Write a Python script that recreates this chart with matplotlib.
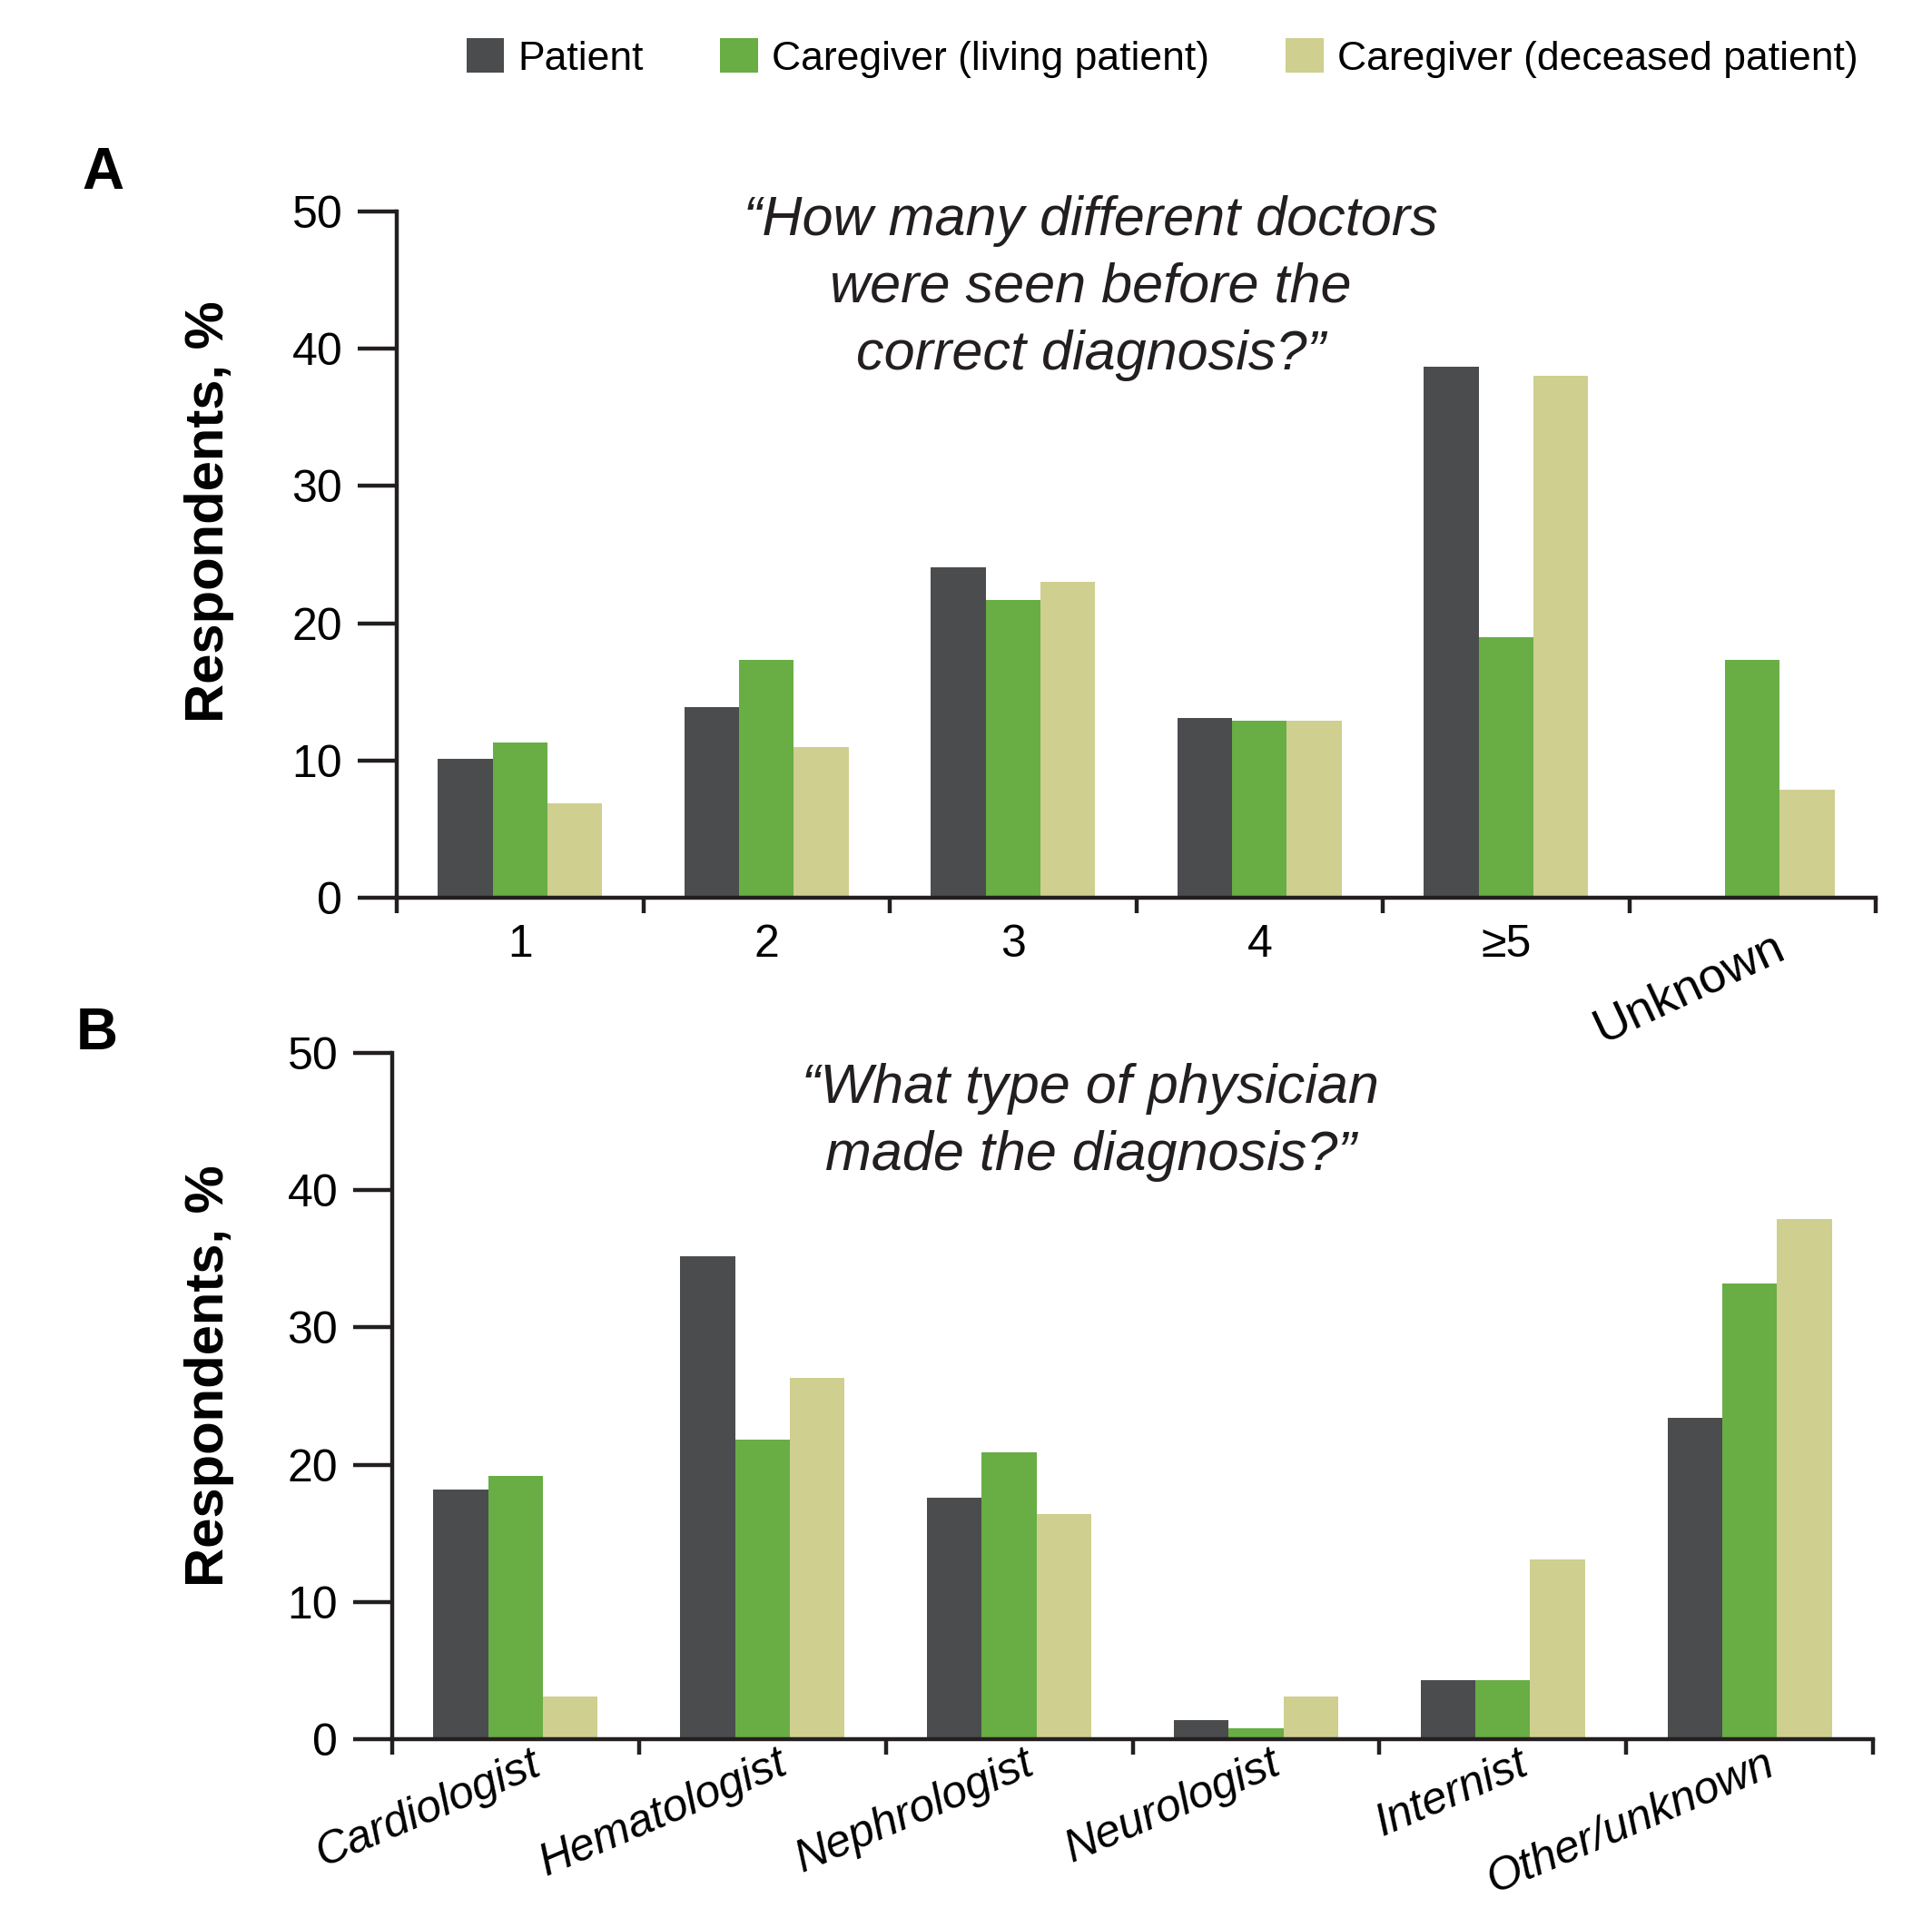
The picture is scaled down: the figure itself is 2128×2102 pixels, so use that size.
import numpy as np
import matplotlib
matplotlib.use("Agg")
import matplotlib.pyplot as plt
from matplotlib.transforms import ScaledTranslation

plt.rcParams["font.family"] = ["Liberation Sans", "DejaVu Sans"]

series = ["Patient", "Caregiver (living patient)", "Caregiver (deceased patient)"]
colors = ["#4b4c4e", "#69ad45", "#cfcf90"]

# panel A: number of doctors seen
a_cats = ["1", "2", "3", "4", "≥5", "Unknown"]
a_patient = [10.1, 13.9, 24.1, 13.1, 38.7, 0]
a_living = [11.3, 17.3, 21.7, 12.9, 19.0, 17.3]
a_deceased = [6.9, 11.0, 23.0, 12.9, 38.0, 7.9]

# panel B: type of physician
b_cats = ["Cardiologist", "Hematologist", "Nephrologist", "Neurologist",
          "Internist", "Other/unknown"]
b_patient = [18.2, 35.2, 17.6, 1.4, 4.3, 23.4]
b_living = [19.2, 21.8, 20.9, 0.8, 4.3, 33.2]
b_deceased = [3.1, 26.3, 16.4, 3.1, 13.1, 37.9]

W, H = 2128, 2102
fig = plt.figure(figsize=(W / 200, H / 200), dpi=200)
axA = fig.add_axes([0.2054, 0.5295, 0.7655, 0.3597])
axB = fig.add_axes([0.2030, 0.0885, 0.7665, 0.3597])


def draw(ax, vals, cats, pad):
    x = np.arange(len(cats)) + 0.5
    w = 0.222
    for i, (v, c, lab) in enumerate(zip(vals, colors, series)):
        ax.bar(x + (i - 1) * w, v, w, color=c, label=lab, linewidth=0, zorder=2)
    ax.set_xlim(0, len(cats))
    ax.set_ylim(0, 50)
    for s in ("top", "right"):
        ax.spines[s].set_visible(False)
    for s in ("left", "bottom"):
        ax.spines[s].set_linewidth(1.6)
        ax.spines[s].set_color("#231f20")
        ax.spines[s].set_zorder(3)
    ax.set_yticks(range(0, 51, 10))
    ax.tick_params(axis="y", length=15.5, width=1.6, pad=6, labelsize=18,
                   color="#231f20")
    ax.set_xticks(range(len(cats) + 1))
    ax.set_xticklabels([])
    ax.tick_params(axis="x", which="major", length=6, width=1.6, color="#231f20")
    ax.set_xticks(x, minor=True)
    ax.set_xticklabels(cats, minor=True)
    ax.tick_params(axis="x", which="minor", length=0, pad=pad, labelsize=18)
    return ax.get_xticklabels(minor=True)


labsA = draw(axA, [a_patient, a_living, a_deceased], a_cats, 10.5)
labsB = draw(axB, [b_patient, b_living, b_deceased], b_cats, 1.5)

off = ScaledTranslation(22 / 200, 0, fig.dpi_scale_trans)
lab = labsA[-1]
lab.set_rotation(25)
lab.set_rotation_mode("anchor")
lab.set_ha("right")
lab.set_fontsize(19.5)
lab.set_transform(lab.get_transform() + off)

for lab in labsB:
    lab.set_rotation(23)
    lab.set_rotation_mode("anchor")
    lab.set_ha("right")
    lab.set_fontsize(18)
    lab.set_fontstyle("italic")
    lab.set_transform(lab.get_transform() + ScaledTranslation(16 / 200, 0, fig.dpi_scale_trans))

# y labels and panel letters
fig.text(231 / W, 1 - 564 / H, "Respondents, %", rotation=90, fontsize=21.5,
         fontweight="bold", ha="center", va="center")
fig.text(231 / W, 1 - 1516 / H, "Respondents, %", rotation=90, fontsize=21.5,
         fontweight="bold", ha="center", va="center")
fig.text(113 / W, 1 - 191 / H, "A", fontsize=23, fontweight="bold", ha="center", va="center")
fig.text(107 / W, 1 - 1139 / H, "B", fontsize=23, fontweight="bold", ha="center", va="center")

# question titles
qa = ["\u201cHow many different doctors", "were seen before the", "correct diagnosis?\u201d"]
for i, line in enumerate(qa):
    fig.text(1201 / W, 1 - (243 + 74 * i) / H, line, fontsize=22, fontstyle="italic",
             ha="center", va="center", color="#231f20")
qb = ["\u201cWhat type of physician", "made the diagnosis?\u201d"]
for i, line in enumerate(qb):
    fig.text(1201 / W, 1 - (1200 + 74 * i) / H, line, fontsize=22, fontstyle="italic",
             ha="center", va="center", color="#231f20")

h, l = axA.get_legend_handles_labels()
fig.legend(h, l, loc="center left", bbox_to_anchor=(514 / W, 1 - 64 / H), ncol=3,
           frameon=False, fontsize=16, handlelength=0.93, handleheight=0.93,
           handletextpad=0.34, columnspacing=1.9, borderpad=0, borderaxespad=0)

fig.savefig("out.png", dpi=200)
